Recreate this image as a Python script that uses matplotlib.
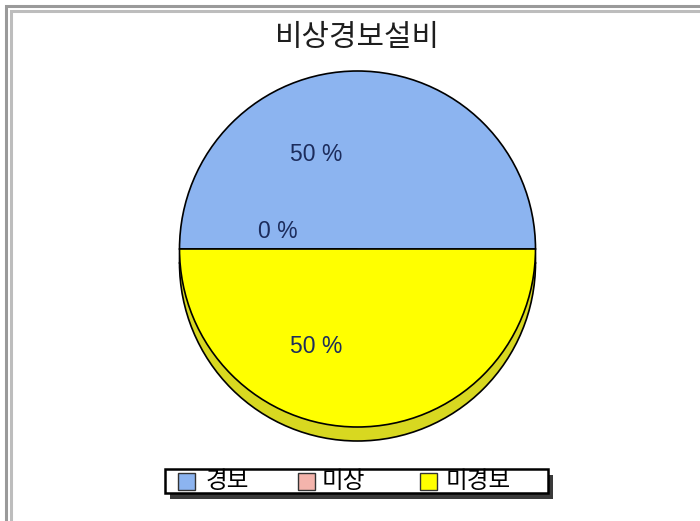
import matplotlib
matplotlib.use('Agg')
import matplotlib.pyplot as plt
from matplotlib.patches import Rectangle

plt.rcParams['font.family'] = ['Noto Sans CJK KR', 'DejaVu Sans']

title = '비상경보설비'
labels = ['경보', '미상', '미경보']
values = [50, 0, 50]
colors = ['#8CB4F0', '#F4B4AC', '#FFFF00']
side_colors = ['#6F90C8', '#C89088', '#D8D820']

# where the percentage labels sit (pie units, radius 1)
label_pos = [(-0.23, 0.53), (-0.45, 0.10), (-0.23, -0.55)]

fig = plt.figure(figsize=(7, 5.21), dpi=100)

# background overlay in pixel coords (frame, title, legend)
bg = fig.add_axes([0, 0, 1, 1], zorder=0)
bg.set_xlim(0, 700)
bg.set_ylim(521, 0)
bg.axis('off')

# double frame line on left / top
bg.plot([5.5, 5.5, 700], [521, 5.5, 5.5], color='#9A9A9A', lw=2.2, solid_joinstyle='miter')
bg.plot([10.5, 10.5, 700], [521, 10.5, 10.5], color='#BDBDBD', lw=2.2, solid_joinstyle='miter')

bg.text(357.5, 37, title, ha='center', va='center', fontsize=21.5, color='#1E1E1E')

# pie
r_px = 178.0
cx, cy = 357.5, 249.0
half = 1.1 * r_px
ax = fig.add_axes([(cx - half) / 700, (521 - cy - half) / 521, 2 * half / 700, 2 * half / 521], zorder=1)
ax.patch.set_alpha(0)

depth = 14.0 / r_px
ax.pie(values, colors=side_colors, startangle=0, counterclock=True, radius=1,
       center=(0, -depth), wedgeprops=dict(edgecolor='black', linewidth=1.2))
wedges, texts, autotexts = ax.pie(values, colors=colors, startangle=0, counterclock=True, radius=1,
                                  autopct=lambda p: f'{p:.0f} %',
                                  wedgeprops=dict(edgecolor='black', linewidth=1.2),
                                  textprops=dict(fontsize=16.5, color='#1C2C5C', family='Liberation Sans'))
for t, (px, py) in zip(autotexts, label_pos):
    t.set_position((px, py))
    t.set_ha('center')
    t.set_va('center')
ax.set_xlim(-1.1, 1.1)
ax.set_ylim(-1.1, 1.1)
ax.set_aspect('equal')
ax.axis('off')

# legend box with shadow
lx0, ly0, lx1, ly1 = 165, 469, 548, 493
bg.add_patch(Rectangle((lx0 + 5, ly0 + 6), lx1 - lx0, ly1 - ly0, facecolor='#3A3A3A', edgecolor='none', zorder=2))
bg.add_patch(Rectangle((lx0, ly0), lx1 - lx0, ly1 - ly0, facecolor='white', edgecolor='black', lw=1.8, zorder=3))
sq_x = [178, 298, 420]
txt_x = [206, 322, 446]
for lab, col, sx, tx in zip(labels, colors, sq_x, txt_x):
    bg.add_patch(Rectangle((sx, 472.5), 17, 17, facecolor=col, edgecolor='#333333', lw=1.0, zorder=4))
    bg.text(tx, 481, lab, ha='left', va='center', fontsize=17, color='black', zorder=5)

fig.savefig('out.png', dpi=100)
